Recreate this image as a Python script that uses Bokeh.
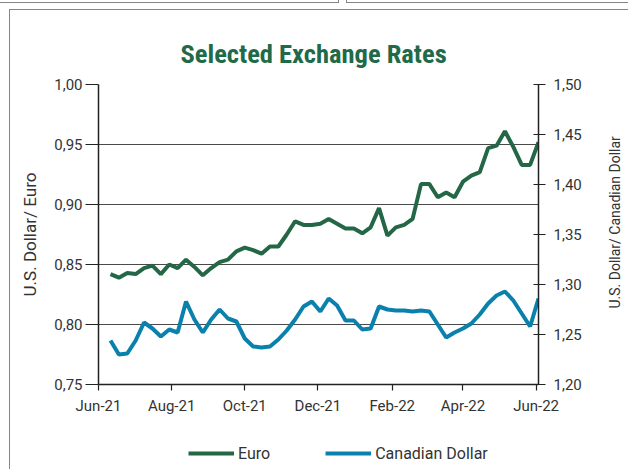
from datetime import datetime
import pandas as pd
from bokeh.plotting import figure
from bokeh.layouts import row, column
from bokeh.models import (Range1d, LinearAxis, FixedTicker, CustomJSTickFormatter,
                          DatetimeTickFormatter, Legend, LegendItem, ColumnDataSource, Title)
from bokeh.embed import file_html
from bokeh.resources import INLINE

# ---- data ----
dates = pd.date_range("2021-06-11", periods=52, freq="7D")
euro = [0.842, 0.839, 0.843, 0.842, 0.847, 0.849, 0.842, 0.850, 0.847, 0.854,
        0.848, 0.841, 0.847, 0.852, 0.854, 0.861, 0.864, 0.862, 0.859, 0.865,
        0.865, 0.875, 0.886, 0.883, 0.883, 0.884, 0.888, 0.884, 0.880, 0.880,
        0.876, 0.881, 0.897, 0.874, 0.881, 0.883, 0.888, 0.917, 0.917, 0.906,
        0.910, 0.906, 0.919, 0.924, 0.927, 0.947, 0.949, 0.961, 0.948, 0.933,
        0.933, 0.952]
cad = [1.244, 1.230, 1.231, 1.244, 1.262, 1.256, 1.248, 1.255, 1.252, 1.283,
       1.265, 1.252, 1.265, 1.275, 1.266, 1.263, 1.246, 1.238, 1.237, 1.238,
       1.245, 1.254, 1.265, 1.278, 1.283, 1.273, 1.286, 1.279, 1.264, 1.264,
       1.255, 1.256, 1.278, 1.275, 1.274, 1.274, 1.273, 1.274, 1.273, 1.260,
       1.247, 1.252, 1.256, 1.261, 1.270, 1.281, 1.289, 1.293, 1.284, 1.271,
       1.258, 1.286]
month_ticks = ["2021-06-01", "2021-08-01", "2021-10-01", "2021-12-01",
               "2022-02-01", "2022-04-01", "2022-06-01"]
left_ticks = [0.75, 0.80, 0.85, 0.90, 0.95, 1.00]
right_ticks = [1.20, 1.25, 1.30, 1.35, 1.40, 1.45, 1.50]

title_text = "Selected Exchange Rates"
left_label = "U.S. Dollar/ Euro"
right_label = "U.S. Dollar/ Canadian Dollar"
series_names = ["Euro", "Canadian Dollar"]

EURO_C = "#236746"
CAD_C = "#0a80ad"
TXT_C = "#333333"
FONT = "Roboto"
G = "#858585"
grad = f"linear-gradient({G}, {G})"
TOP_H = 430
BT, BB = 84, 46   # top / bottom borders shared by the row

src = ColumnDataSource(dict(date=dates, euro=euro, cad=cad))

p = figure(width=602, height=TOP_H, x_axis_type="datetime",
           x_range=Range1d(datetime(2021, 6, 1), datetime(2022, 6, 3)),
           y_range=Range1d(0.75, 1.00),
           output_backend="svg", toolbar_location=None,
           min_border_left=98, min_border_right=64, min_border_top=BT, min_border_bottom=BB)

# surrounding panel frame lines (CSS background behind a transparent border fill)
p.styles = {
    "background-color": "white",
    "background-image": ", ".join([grad] * 6),
    "background-repeat": "no-repeat",
    "background-position": "0px 2px, 338px 0px, 346px 2px, 346px 0px, 9px 9px, 9px 9px",
    "background-size": "339px 1px, 1px 3px, calc(100% - 346px) 1px, 1px 3px, "
                       "calc(100% - 9px) 1px, 1px calc(100% - 9px)",
}
p.outline_line_color = None
p.background_fill_color = "white"
p.border_fill_alpha = 0

p.title.text = title_text
p.title.text_font = "'Roboto Condensed', 'Liberation Sans Narrow', 'DejaVu Sans Condensed', 'Roboto'"
p.title.text_font_style = "bold"
p.title.text_font_size = "26.5px"
p.title.text_color = "#1f6a48"
p.title.align = "left"
p.title.offset = 82
p.title.standoff = 31

p.extra_y_ranges = {"cad": Range1d(1.20, 1.50)}

l1 = p.line("date", "euro", source=src, line_color=EURO_C, line_width=4)
l2 = p.line("date", "cad", source=src, line_color=CAD_C, line_width=4, y_range_name="cad")

# x axis
xa = p.xaxis[0]
xa.ticker = FixedTicker(ticks=[pd.Timestamp(d).value / 1e6 for d in month_ticks])
fmt = "%b-%y"
xa.formatter = DatetimeTickFormatter(years=fmt, months=fmt, days=fmt, hours=fmt,
                                     minutes=fmt, seconds=fmt, milliseconds=fmt,
                                     microseconds=fmt, hourmin=fmt, minsec=fmt)
xa.major_tick_in = 0
xa.major_tick_out = 6
xa.minor_tick_line_color = None
xa.major_label_standoff = 6

comma = CustomJSTickFormatter(code="return tick.toFixed(2).replace('.', ',');")

ya = p.yaxis[0]
ya.ticker = FixedTicker(ticks=left_ticks)
ya.formatter = comma
ya.major_tick_in = 0
ya.major_tick_out = 13
ya.minor_tick_line_color = None
ya.major_label_standoff = 3
ya.axis_label = left_label
ya.axis_label_standoff = 11

ra = LinearAxis(y_range_name="cad", ticker=FixedTicker(ticks=right_ticks), formatter=comma)
ra.major_tick_in = 5
ra.major_tick_out = 7
ra.minor_tick_line_color = None
ra.major_label_standoff = 8
p.add_layout(ra, "right")

for ax in (xa, ya, ra):
    ax.axis_line_color = "#222222"
    ax.axis_line_width = 1.5
    ax.major_tick_line_color = "#222222"
    ax.major_tick_line_width = 1.2
    ax.major_label_text_font = FONT
    ax.major_label_text_font_size = "15px"
    ax.major_label_text_color = TXT_C
    ax.axis_label_text_font = FONT
    ax.axis_label_text_font_size = "14px"
    ax.axis_label_text_font_style = "normal"
    ax.axis_label_text_color = TXT_C
ya.axis_label_text_font_size = "17px"

p.xgrid.grid_line_color = None
p.ygrid.ticker = FixedTicker(ticks=left_ticks)
p.ygrid.grid_line_color = "#4a4a4a"
p.ygrid.grid_line_width = 1

# narrow companion figure carrying the right-hand axis title (reads bottom-to-top)
p2 = figure(width=26, height=TOP_H, x_range=Range1d(0, 1), y_range=Range1d(0, 1),
            output_backend="svg", toolbar_location=None,
            x_axis_location=None, y_axis_location=None,
            min_border_left=0, min_border_right=0, min_border_top=BT, min_border_bottom=BB)
p2.styles = {
    "background-color": "white",
    "background-image": f"{grad}, {grad}",
    "background-repeat": "no-repeat",
    "background-position": "0px 2px, 0px 9px",
    "background-size": "100% 1px, 100% 1px",
}
p2.grid.visible = False
p2.outline_line_color = None
p2.background_fill_alpha = 0
p2.border_fill_alpha = 0
rt = Title(text=right_label, align="left", offset=76, text_font=FONT, text_font_size="14px",
           text_font_style="normal", text_color=TXT_C, standoff=4)
p2.add_layout(rt, "left")

# legend strip underneath (proxies use the same data, outside this strip's ranges)
p3 = figure(width=628, height=469 - TOP_H, x_range=Range1d(0, 1), y_range=Range1d(0, 1),
            output_backend="svg", toolbar_location=None,
            x_axis_location=None, y_axis_location=None,
            min_border_left=0, min_border_right=0, min_border_top=0, min_border_bottom=0)
p3.styles = {
    "background-color": "white",
    "background-image": grad,
    "background-repeat": "no-repeat",
    "background-position": "9px 0px",
    "background-size": "1px 100%",
}
p3.grid.visible = False
p3.outline_line_color = None
p3.background_fill_alpha = 0
p3.border_fill_alpha = 0
k1 = p3.line("date", "euro", source=src, line_color=EURO_C, line_width=4)
k2 = p3.line("date", "cad", source=src, line_color=CAD_C, line_width=4)

legend = Legend(items=[LegendItem(label=series_names[0], renderers=[k1]),
                       LegendItem(label=series_names[1], renderers=[k2])],
                orientation="horizontal", location=(188, 6))
legend.border_line_color = None
legend.background_fill_alpha = 0
legend.padding = 0
legend.margin = 0
legend.spacing = 55
legend.glyph_width = 46
legend.glyph_height = 20
legend.label_standoff = 4
legend.label_text_font = FONT
legend.label_text_font_size = "16px"
legend.label_text_color = TXT_C
p3.add_layout(legend, "center")

layout = column(row(p, p2, spacing=0), p3, spacing=0)
open("out.html", "w").write(file_html(layout, INLINE))
